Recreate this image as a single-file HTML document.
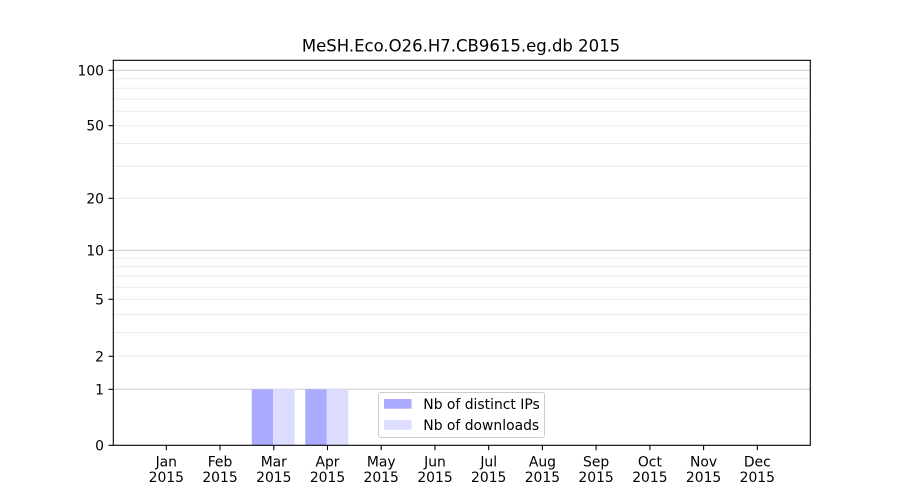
<!DOCTYPE html>
<html><head><meta charset="utf-8"><style>
html,body{margin:0;padding:0;background:#fff;}
svg{display:block;}
text{font-family:"DejaVu Sans","Liberation Sans",sans-serif;fill:#000;}
</style></head><body>
<svg width="900" height="500" viewBox="0 0 900 500" xmlns="http://www.w3.org/2000/svg">
<rect x="0" y="0" width="900" height="500" fill="#fff"/>
<g stroke="#ebebeb" stroke-width="1">
<line x1="113" x2="810" y1="78.8" y2="78.8"/>
<line x1="113" x2="810" y1="88.3" y2="88.3"/>
<line x1="113" x2="810" y1="99.0" y2="99.0"/>
<line x1="113" x2="810" y1="111.2" y2="111.2"/>
<line x1="113" x2="810" y1="125.7" y2="125.7"/>
<line x1="113" x2="810" y1="143.5" y2="143.5"/>
<line x1="113" x2="810" y1="166.3" y2="166.3"/>
<line x1="113" x2="810" y1="198.3" y2="198.3"/>
<line x1="113" x2="810" y1="258.3" y2="258.3"/>
<line x1="113" x2="810" y1="266.7" y2="266.7"/>
<line x1="113" x2="810" y1="276.3" y2="276.3"/>
<line x1="113" x2="810" y1="287.3" y2="287.3"/>
<line x1="113" x2="810" y1="299.3" y2="299.3"/>
<line x1="113" x2="810" y1="314.5" y2="314.5"/>
<line x1="113" x2="810" y1="332.6" y2="332.6"/>
<line x1="113" x2="810" y1="356.3" y2="356.3"/>
</g>
<g stroke="#cccccc" stroke-width="1">
<line x1="113" x2="810" y1="70.3" y2="70.3"/>
<line x1="113" x2="810" y1="250.3" y2="250.3"/>
<line x1="113" x2="810" y1="389.3" y2="389.3"/>
</g>
<rect x="251.8" y="389.3" width="21.3" height="56" fill="#aaaaff"/>
<rect x="273.1" y="389.3" width="21.5" height="56" fill="#ddddff"/>
<rect x="305.3" y="389.3" width="21.5" height="56" fill="#aaaaff"/>
<rect x="326.8" y="389.3" width="21.5" height="56" fill="#ddddff"/>
<rect x="113.3" y="60.3" width="697" height="385" fill="none" stroke="#000" stroke-width="1.1"/>
<g stroke="#000" stroke-width="1.1">
<line x1="108.5" x2="113.3" y1="445.3" y2="445.3"/>
<line x1="108.5" x2="113.3" y1="389.3" y2="389.3"/>
<line x1="108.5" x2="113.3" y1="356.3" y2="356.3"/>
<line x1="108.5" x2="113.3" y1="299.3" y2="299.3"/>
<line x1="108.5" x2="113.3" y1="250.3" y2="250.3"/>
<line x1="108.5" x2="113.3" y1="198.3" y2="198.3"/>
<line x1="108.5" x2="113.3" y1="125.7" y2="125.7"/>
<line x1="108.5" x2="113.3" y1="70.3" y2="70.3"/>
</g>
<g font-size="13.9" text-anchor="end">
<text x="104" y="450.3">0</text>
<text x="104" y="394.3">1</text>
<text x="104" y="361.3">2</text>
<text x="104" y="304.3">5</text>
<text x="104" y="255.3">10</text>
<text x="104" y="203.3">20</text>
<text x="104" y="130.7">50</text>
<text x="104" y="75.3">100</text>
</g>
<g stroke="#000" stroke-width="1.1">
<line x1="166.3" x2="166.3" y1="445.3" y2="450.2"/>
<line x1="220.0" x2="220.0" y1="445.3" y2="450.2"/>
<line x1="273.8" x2="273.8" y1="445.3" y2="450.2"/>
<line x1="327.5" x2="327.5" y1="445.3" y2="450.2"/>
<line x1="381.2" x2="381.2" y1="445.3" y2="450.2"/>
<line x1="435.0" x2="435.0" y1="445.3" y2="450.2"/>
<line x1="488.7" x2="488.7" y1="445.3" y2="450.2"/>
<line x1="542.4" x2="542.4" y1="445.3" y2="450.2"/>
<line x1="596.1" x2="596.1" y1="445.3" y2="450.2"/>
<line x1="649.9" x2="649.9" y1="445.3" y2="450.2"/>
<line x1="703.6" x2="703.6" y1="445.3" y2="450.2"/>
<line x1="757.3" x2="757.3" y1="445.3" y2="450.2"/>
</g>
<g font-size="13.9" text-anchor="middle">
<text x="166.3" y="466.3">Jan</text><text x="166.3" y="482">2015</text>
<text x="220.0" y="466.3">Feb</text><text x="220.0" y="482">2015</text>
<text x="273.8" y="466.3">Mar</text><text x="273.8" y="482">2015</text>
<text x="327.5" y="466.3">Apr</text><text x="327.5" y="482">2015</text>
<text x="381.2" y="466.3">May</text><text x="381.2" y="482">2015</text>
<text x="435.0" y="466.3">Jun</text><text x="435.0" y="482">2015</text>
<text x="488.7" y="466.3">Jul</text><text x="488.7" y="482">2015</text>
<text x="542.4" y="466.3">Aug</text><text x="542.4" y="482">2015</text>
<text x="596.1" y="466.3">Sep</text><text x="596.1" y="482">2015</text>
<text x="649.9" y="466.3">Oct</text><text x="649.9" y="482">2015</text>
<text x="703.6" y="466.3">Nov</text><text x="703.6" y="482">2015</text>
<text x="757.3" y="466.3">Dec</text><text x="757.3" y="482">2015</text>
</g>
<text x="461" y="51.5" font-size="16.5" text-anchor="middle">MeSH.Eco.O26.H7.CB9615.eg.db 2015</text>
<rect x="378.5" y="392.5" width="166" height="45" rx="2.5" fill="#fff" fill-opacity="0.8" stroke="#cccccc" stroke-width="1"/>
<rect x="384" y="399" width="27.5" height="9.7" fill="#aaaaff"/>
<rect x="384" y="420" width="27.5" height="9.7" fill="#ddddff"/>
<g font-size="13.9">
<text x="423.3" y="409">Nb of distinct IPs</text>
<text x="423.3" y="430">Nb of downloads</text>
</g>
</svg>
</body></html>
